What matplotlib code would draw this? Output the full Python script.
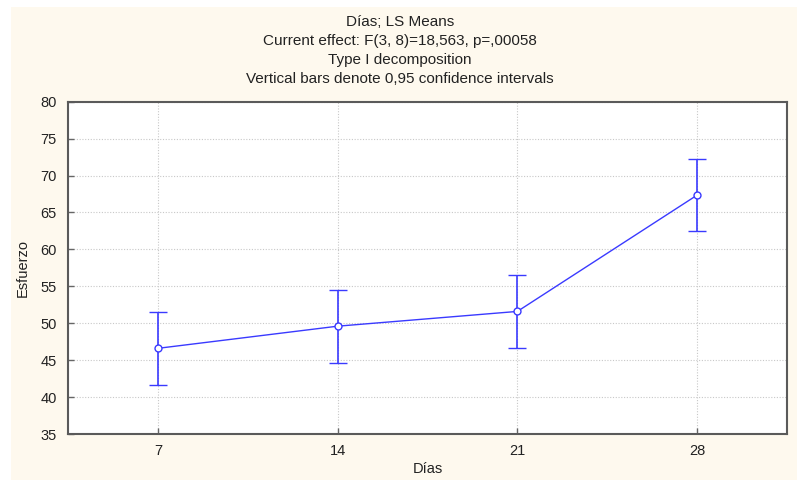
import matplotlib.pyplot as plt
import numpy as np

# LS means of Esfuerzo by Dias with 0.95 confidence half-widths
dias = ["7", "14", "21", "28"]
means = [46.6, 49.6, 51.6, 67.35]
ci_half = [4.95, 4.92, 4.95, 4.9]

title_lines = [
    "Días; LS Means",
    "Current effect: F(3, 8)=18,563, p=,00058",
    "Type I decomposition",
    "Vertical bars denote 0,95 confidence intervals",
]

plt.rcParams["font.family"] = ["Liberation Sans", "DejaVu Sans"]

BG = "#fef9ee"
BLUE = "#3a3aff"

fig = plt.figure(figsize=(7.97, 4.8), dpi=100, facecolor="white")
# ivory panel behind everything, leaving a thin white strip top/left
fig.patches.append(plt.Rectangle((11 / 797, 0), 1, 1 - 7 / 480, transform=fig.transFigure,
                                 facecolor=BG, edgecolor="none", zorder=-10))

ax = fig.add_axes([68 / 797, 1 - 434 / 480, (787 - 68) / 797, (434 - 101.7) / 480])
ax.set_facecolor("white")

x = np.arange(len(dias))
ax.errorbar(x, means, yerr=ci_half, color=BLUE, lw=1.0, elinewidth=1.2,
            capsize=6.5, capthick=1.2, marker="o", markersize=5,
            markerfacecolor="white", markeredgecolor=BLUE, markeredgewidth=1.0, zorder=3)

ax.set_xlim(-0.5, len(dias) - 0.5)
ax.set_ylim(35, 80)
ax.set_xticks(x)
ax.set_xticklabels(dias)
ax.set_yticks(np.arange(35, 81, 5))

ax.grid(True, color="#c8c8c8", linestyle=(0, (1, 1.5)), lw=0.8, zorder=0)
ax.tick_params(direction="in", length=4, width=1, color="#666666", labelsize=10.5,
               labelcolor="#222222")
ax.tick_params(axis="x", pad=7)
ax.tick_params(axis="y", pad=8)
for s in ax.spines.values():
    s.set_color("#5a5a5a")
    s.set_linewidth(1.5)

ax.set_xlabel("Días", fontsize=10.5, color="#222222", labelpad=3)
ax.set_ylabel("Esfuerzo", fontsize=10.5, color="#222222", labelpad=8)

for i, line in enumerate(title_lines):
    fig.text(0.502, 1 - (22 + 19 * i) / 480, line, ha="center", va="center",
             fontsize=11, color="#222222")

fig.savefig("out.png", dpi=100, facecolor=fig.get_facecolor())
